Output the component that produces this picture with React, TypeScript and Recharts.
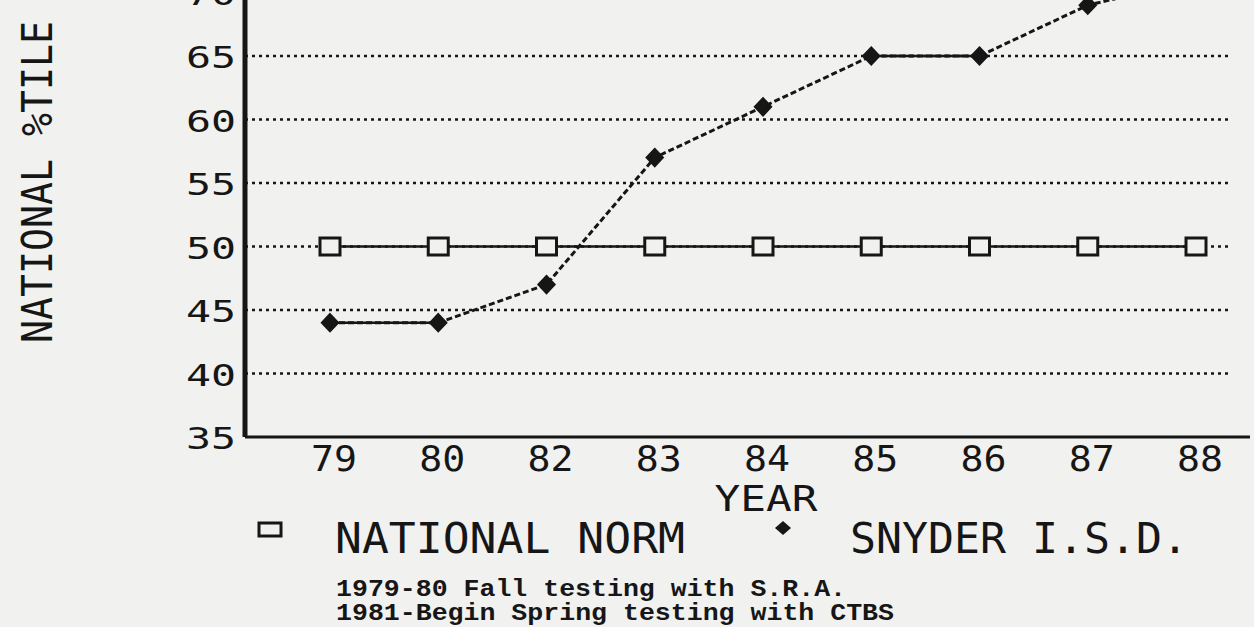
import React from 'react';
import { LineChart, Line, XAxis, YAxis, ReferenceLine } from 'recharts';

const years = ['79', '80', '82', '83', '84', '85', '86', '87', '88'];
const nationalNorm = [50, 50, 50, 50, 50, 50, 50, 50, 50];
const snyderISD = [44, 44, 47, 57, 61, 65, 65, 69, 71];
const yTicks = [35, 40, 45, 50, 55, 60, 65, 70];
const gridValues = [40, 45, 50, 55, 60, 65];
const seriesNames = ['NATIONAL NORM', 'SNYDER I.S.D.'];
const yAxisTitle = 'NATIONAL %TILE';
const xAxisTitle = 'YEAR';
const footnotes = ['1979-80 Fall testing with S.R.A.', '1981-Begin Spring testing with CTBS'];

const BG = '#f1f1ef';
const INK = '#161616';
const DOT_FONT = '"DejaVu Sans Mono", monospace';
const NOTE_FONT = '"Liberation Mono", monospace';

const X_MIN = -0.7852;
const X_MAX = 8.4988;
const GRID_END = 8.31;

const data = years.map((year, i) => ({
  i,
  year,
  norm: nationalNorm[i],
  snyder: snyderISD[i],
  flat:
    snyderISD[i] === snyderISD[i - 1] || snyderISD[i] === snyderISD[i + 1] ? snyderISD[i] : null,
}));

const XTick = (props: any) => {
  const { x, y, payload } = props;
  return (
    <text
      x={x + 4}
      y={y + 34}
      textAnchor="middle"
      fontFamily={DOT_FONT}
      fontSize={36}
      fill={INK}
      textLength={46}
      lengthAdjust="spacingAndGlyphs"
    >
      {years[payload.value]}
    </text>
  );
};

const YTick = (props: any) => {
  const { x, y, payload } = props;
  return (
    <text
      x={x - 9}
      y={y + 12}
      textAnchor="end"
      fontFamily={DOT_FONT}
      fontSize={31}
      fill={INK}
      textLength={50}
      lengthAdjust="spacingAndGlyphs"
    >
      {payload.value}
    </text>
  );
};

const SquareDot = (props: any) => {
  const { cx, cy, index } = props;
  if (cx == null || cy == null) return <g key={`sq-${index}`} />;
  return (
    <rect
      key={`sq-${index}`}
      x={cx - 10}
      y={cy - 8.5}
      width={20}
      height={17}
      fill={BG}
      stroke={INK}
      strokeWidth={3}
    />
  );
};

const DiamondDot = (props: any) => {
  const { cx, cy, index } = props;
  if (cx == null || cy == null) return <g key={`dm-${index}`} />;
  return (
    <polygon
      key={`dm-${index}`}
      points={`${cx},${cy - 9} ${cx + 8.5},${cy} ${cx},${cy + 9} ${cx - 8.5},${cy}`}
      fill={INK}
      stroke={INK}
      strokeWidth={1.5}
    />
  );
};

export default function App() {
  return (
    <div
      style={{
        position: 'fixed',
        left: 0,
        top: 0,
        width: 1254,
        height: 627,
        overflow: 'hidden',
        background: BG,
      }}
    >
      <div style={{ position: 'absolute', left: 0, top: -20 }}>
        <LineChart
          width={1254}
          height={647}
          data={data}
          margin={{ top: 12.5, right: 4, bottom: 0, left: 0 }}
        >
          <XAxis
            dataKey="i"
            type="number"
            domain={[X_MIN, X_MAX]}
            ticks={[0, 1, 2, 3, 4, 5, 6, 7, 8]}
            allowDataOverflow
            height={190}
            interval={0}
            axisLine={{ stroke: INK, strokeWidth: 3 }}
            tickLine={false}
            tickSize={0}
            tickMargin={0}
            tick={XTick}
          />
          <YAxis
            type="number"
            domain={[35, 70]}
            ticks={yTicks}
            allowDataOverflow
            width={245}
            interval={0}
            axisLine={{ stroke: INK, strokeWidth: 5 }}
            tickLine={false}
            tickSize={0}
            tickMargin={0}
            tick={YTick}
          />
          {gridValues.map((v) => (
            <ReferenceLine
              key={`g-${v}`}
              segment={[
                { x: X_MIN, y: v },
                { x: GRID_END, y: v },
              ]}
              stroke={INK}
              strokeWidth={2.5}
              strokeDasharray="3 4"
            />
          ))}
          <Line
            dataKey="norm"
            stroke={INK}
            strokeWidth={2.5}
            dot={SquareDot}
            activeDot={false}
            isAnimationActive={false}
          />
          <Line
            dataKey="flat"
            stroke={INK}
            strokeWidth={2.5}
            dot={false}
            activeDot={false}
            connectNulls={false}
            isAnimationActive={false}
          />
          <Line
            dataKey="snyder"
            stroke={INK}
            strokeWidth={3}
            strokeDasharray="6 3"
            dot={DiamondDot}
            activeDot={false}
            isAnimationActive={false}
          />
        </LineChart>
      </div>
      <svg
        width={1254}
        height={627}
        style={{ position: 'absolute', left: 0, top: 0, pointerEvents: 'none' }}
      >
        <text
          transform="translate(52,182) rotate(-90)"
          textAnchor="middle"
          fontFamily={DOT_FONT}
          fontSize={42}
          fill={INK}
          textLength={322}
          lengthAdjust="spacingAndGlyphs"
        >
          {yAxisTitle}
        </text>
        <text
          x={766}
          y={511}
          textAnchor="middle"
          fontFamily={DOT_FONT}
          fontSize={36}
          fill={INK}
          textLength={103}
          lengthAdjust="spacingAndGlyphs"
        >
          {xAxisTitle}
        </text>
        <rect x={259} y={523} width={22} height={13} fill="none" stroke={INK} strokeWidth={3} />
        <text
          x={335}
          y={553}
          fontFamily={DOT_FONT}
          fontSize={42}
          fill={INK}
          textLength={350}
          lengthAdjust="spacingAndGlyphs"
        >
          {seriesNames[0]}
        </text>
        <polygon points="783,521 791,528 783,535 775,528" fill={INK} />
        <text
          x={850}
          y={553}
          fontFamily={DOT_FONT}
          fontSize={42}
          fill={INK}
          textLength={338}
          lengthAdjust="spacingAndGlyphs"
        >
          {seriesNames[1]}
        </text>
        <text
          x={336}
          y={596}
          fontFamily={NOTE_FONT}
          fontWeight="bold"
          fontSize={23}
          fill={INK}
          textLength={510}
          lengthAdjust="spacingAndGlyphs"
        >
          {footnotes[0]}
        </text>
        <text
          x={336}
          y={620}
          fontFamily={NOTE_FONT}
          fontWeight="bold"
          fontSize={23}
          fill={INK}
          textLength={558}
          lengthAdjust="spacingAndGlyphs"
        >
          {footnotes[1]}
        </text>
      </svg>
    </div>
  );
}
